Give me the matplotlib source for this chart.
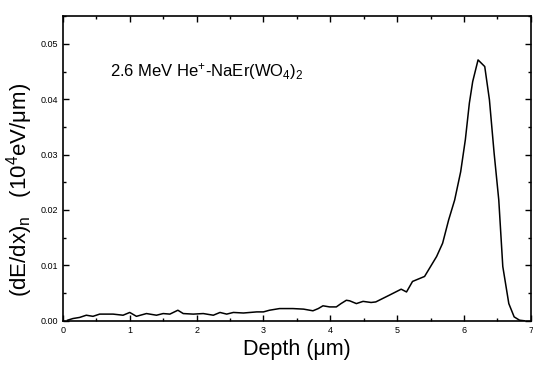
import matplotlib
matplotlib.use("Agg")
import matplotlib.pyplot as plt
from matplotlib.ticker import MultipleLocator

plt.rcParams['font.family'] = ['Liberation Sans', 'DejaVu Sans']
plt.rcParams['mathtext.fontset'] = 'custom'
plt.rcParams['mathtext.rm'] = 'Liberation Sans'
plt.rcParams['mathtext.it'] = 'Liberation Sans'

depth = [0.07, 0.15, 0.25, 0.35, 0.45, 0.55, 0.75, 0.9, 1.0, 1.1, 1.25, 1.4, 1.5, 1.6,
         1.72, 1.8, 1.95, 2.1, 2.25, 2.35, 2.45, 2.55, 2.7, 2.9, 3.0, 3.09, 3.24, 3.44,
         3.6, 3.74, 3.82, 3.89, 3.99, 4.09, 4.16, 4.24, 4.29, 4.39, 4.49, 4.61, 4.68,
         4.88, 5.06, 5.14, 5.23, 5.41, 5.59, 5.68, 5.77, 5.86, 5.95, 6.02, 6.08, 6.13,
         6.21, 6.31, 6.38, 6.45, 6.52, 6.58, 6.67, 6.75, 6.83, 6.9]
dedx = [0.0001, 0.0004, 0.0006, 0.0010, 0.0008, 0.0012, 0.0012, 0.0010, 0.0015, 0.0008,
        0.0013, 0.0010, 0.0013, 0.0012, 0.0019, 0.0013, 0.0012, 0.0013, 0.0010, 0.0015,
        0.0012, 0.0015, 0.0014, 0.0016, 0.0016, 0.0019, 0.0022, 0.0022, 0.0021, 0.0018,
        0.0022, 0.0027, 0.0025, 0.0025, 0.0031, 0.0037, 0.0036, 0.0031, 0.0035, 0.0033,
        0.0034, 0.0046, 0.0057, 0.0052, 0.0071, 0.0080, 0.0116, 0.0140, 0.0182, 0.0218,
        0.0269, 0.0327, 0.0393, 0.0432, 0.0471, 0.0459, 0.0399, 0.0303, 0.0218, 0.0098,
        0.0031, 0.0007, 0.0001, 0.0]

fig = plt.figure(figsize=(5.33, 3.67), dpi=100)
ax = fig.add_axes([0.118, 0.126, 0.878, 0.830])
ax.plot(depth, dedx, color='black', lw=1.1)
ax.set_xlim(0, 7)
ax.set_ylim(0, 0.055)
ax.xaxis.set_major_locator(MultipleLocator(1))
ax.xaxis.set_minor_locator(MultipleLocator(0.5))
ax.yaxis.set_major_locator(MultipleLocator(0.01))
ax.yaxis.set_minor_locator(MultipleLocator(0.005))
ax.yaxis.set_major_formatter(matplotlib.ticker.FormatStrFormatter('%.2f'))
ax.tick_params(which='both', direction='in', top=True, right=True, labelsize=6.5, width=1)
ax.tick_params(which='major', length=4)
ax.tick_params(which='minor', length=2.5)
for s in ax.spines.values():
    s.set_linewidth(1.2)
ax.set_xlabel('Depth (\u03bcm)', fontsize=15.5, labelpad=3)
ax.set_ylabel('(dE/dx)$_{\\mathrm{n}}$   (10$^{4}$eV/\u03bcm)', fontsize=16)
ax.yaxis.set_label_coords(-0.06, 0.43)
ax.text(0.7, 0.045, '2.6 MeV He$^{+}$-NaEr(WO$_{4}$)$_{2}$', fontsize=12, va='center')
fig.savefig('out.png', dpi=100)
